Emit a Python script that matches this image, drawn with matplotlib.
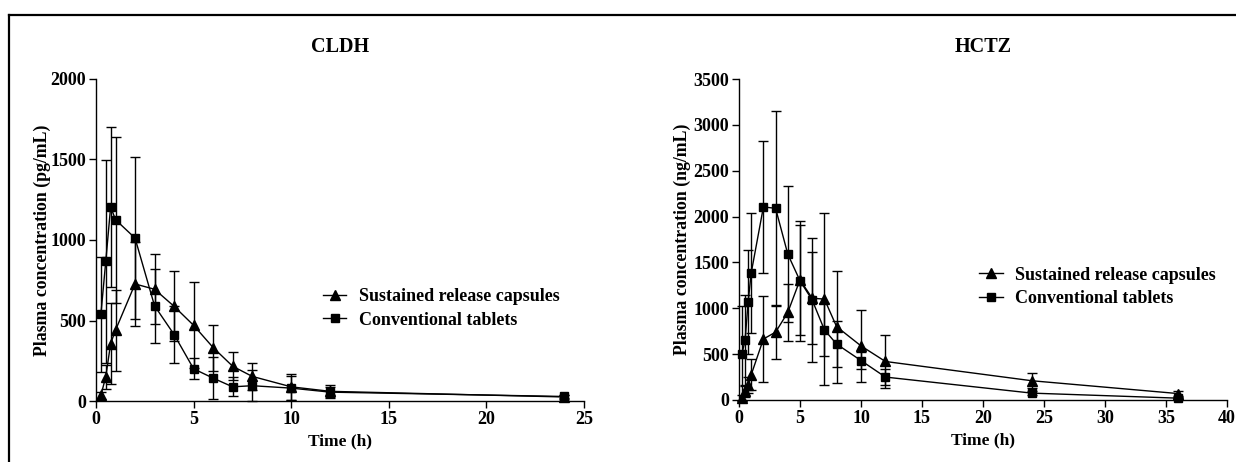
import matplotlib
matplotlib.use('Agg')
import matplotlib.pyplot as plt
from matplotlib.lines import Line2D

# CLDH (pg/mL)
cldh_time = [0.25, 0.5, 0.75, 1, 2, 3, 4, 5, 6, 7, 8, 10, 12, 24]
cldh_sr_mean = [35, 150, 357, 440, 727, 694, 588, 470, 332, 216, 153, 88, 60, 25]
cldh_sr_sd = [20, 75, 250, 252, 262, 218, 218, 268, 143, 87, 83, 80, 38, 12]
cldh_ct_mean = [538, 867, 1206, 1126, 1012, 591, 413, 200, 142, 88, 95, 80, 55, 28]
cldh_ct_sd = [357, 630, 495, 515, 505, 230, 178, 65, 130, 60, 95, 75, 35, 12]

# HCTZ (ng/mL)
hctz_time = [0.25, 0.5, 0.75, 1, 2, 3, 4, 5, 6, 7, 8, 10, 12, 24, 36]
hctz_sr_mean = [20, 95, 165, 275, 665, 740, 955, 1310, 1110, 1100, 800, 590, 420, 210, 70]
hctz_sr_sd = [30, 60, 90, 170, 470, 295, 310, 600, 500, 937, 610, 390, 290, 80, 25]
hctz_ct_mean = [505, 655, 1070, 1385, 2105, 2090, 1590, 1300, 1090, 765, 610, 430, 250, 75, 20]
hctz_ct_sd = [515, 490, 565, 650, 720, 1065, 740, 655, 680, 290, 255, 95, 90, 25, 10]

labels = ['Sustained release capsules', 'Conventional tablets']

plt.rcParams['font.family'] = ['Liberation Serif', 'DejaVu Serif']
plt.rcParams['font.weight'] = 'bold'

W, H = 1236, 462
fig = plt.figure(figsize=(W / 100, H / 100), dpi=100)


def px_axes(x0, x1, y0, y1):
    return fig.add_axes([x0 / W, 1 - y1 / H, (x1 - x0) / W, (y1 - y0) / H])


def draw_panel(ax, t, sr, sr_sd, ct, ct_sd, title, ylabel, xmax, xstep, ymax, leg_anchor, ypad):
    h1 = ax.errorbar(t, sr, yerr=sr_sd, fmt='-^', color='black', lw=1, ms=6.5,
                     elinewidth=1, capsize=3.5, capthick=1, clip_on=False)
    h2 = ax.errorbar(t, ct, yerr=ct_sd, fmt='-s', color='black', lw=1, ms=5.5,
                     elinewidth=1, capsize=3.5, capthick=1, clip_on=False)
    ax.set_xlim(0, xmax)
    ax.set_ylim(0, ymax)
    ax.set_xticks(range(0, xmax + 1, xstep))
    ax.set_yticks(range(0, ymax + 1, 500))
    for s in ['top', 'right']:
        ax.spines[s].set_visible(False)
    for s in ['left', 'bottom']:
        ax.spines[s].set_linewidth(1)
    ax.tick_params(direction='out', length=5, width=1, labelsize=13, pad=2)
    ax.set_title(title, fontsize=14.5, fontweight='bold', pad=19.5)
    ax.set_xlabel('Time (h)', fontsize=12.5, fontweight='bold', labelpad=4)
    ax.set_ylabel(ylabel, fontsize=12.8, fontweight='bold', labelpad=ypad)
    ax.legend([h1[0], h2[0]], labels, loc='upper left', bbox_to_anchor=leg_anchor,
              frameon=False, fontsize=13, handlelength=1.3, handletextpad=0.7,
              borderpad=0, borderaxespad=0, labelspacing=0.35)


ax1 = px_axes(96, 584, 79, 401)
draw_panel(ax1, cldh_time, cldh_sr_mean, cldh_sr_sd, cldh_ct_mean, cldh_ct_sd,
           'CLDH', 'Plasma concentration (pg/mL)', 25, 5, 2000, (0.465, 0.35), 0)

ax2 = px_axes(739, 1227, 79, 400)
draw_panel(ax2, hctz_time, hctz_sr_mean, hctz_sr_sd, hctz_ct_mean, hctz_ct_sd,
           'HCTZ', 'Plasma concentration (ng/mL)', 40, 5, 3500, (0.492, 0.415), 2)

# outer frame (top and left edge)
fig.add_artist(Line2D([8.5 / W, 1], [1 - 15 / H, 1 - 15 / H], color='black', lw=1.6,
                      transform=fig.transFigure))
fig.add_artist(Line2D([8.5 / W, 8.5 / W], [0, 1 - 15 / H], color='black', lw=1.6,
                      transform=fig.transFigure))

fig.savefig('out.png', dpi=100)
